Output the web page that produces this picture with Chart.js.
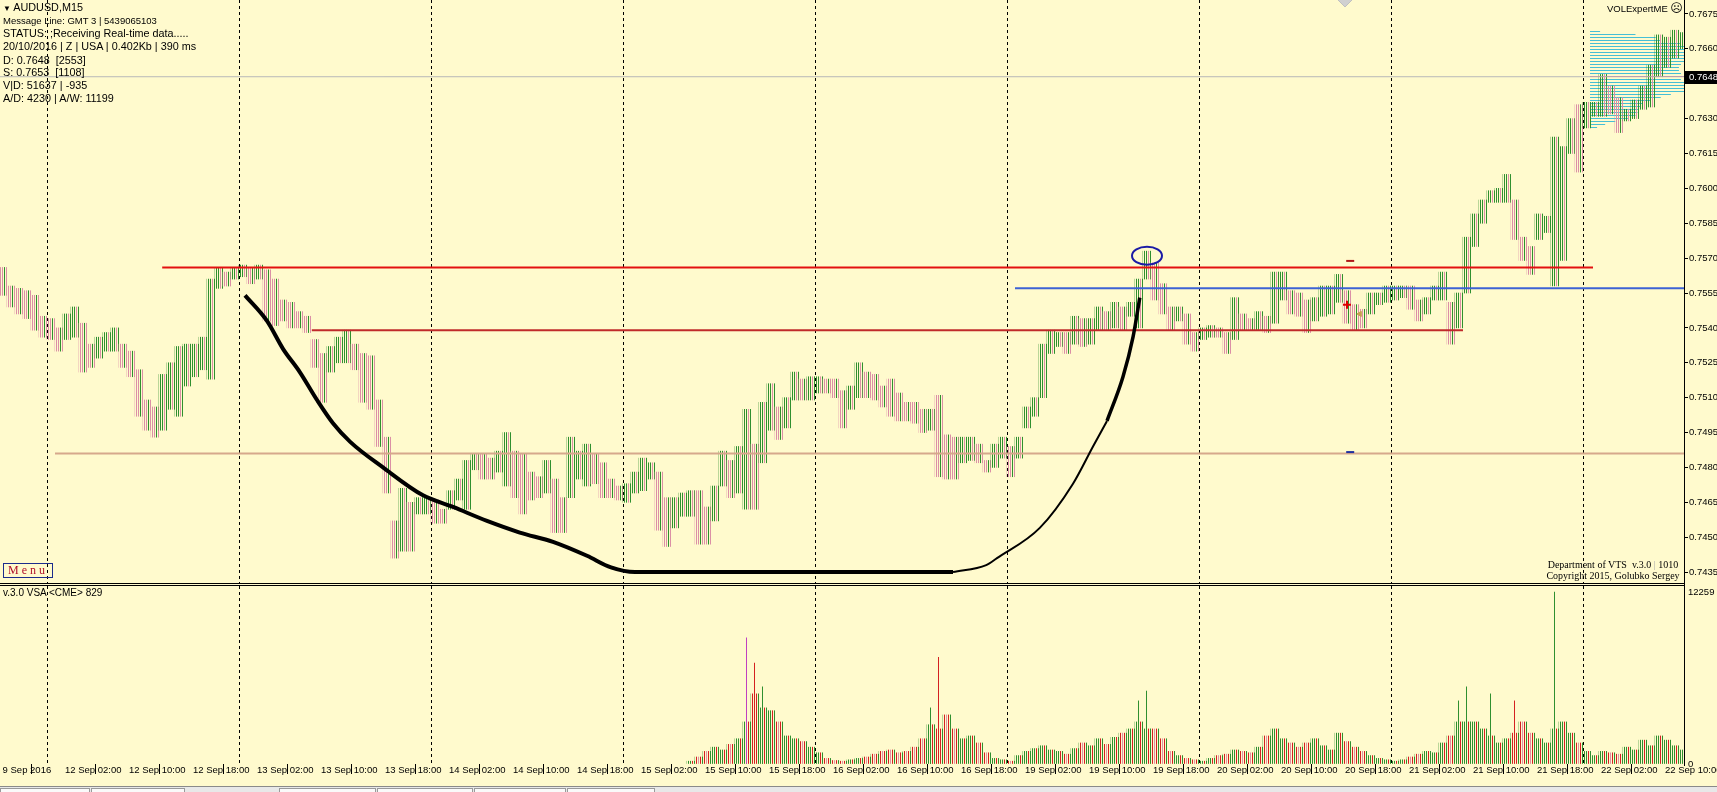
<!DOCTYPE html>
<html>
<head>
<meta charset="utf-8">
<title>AUDUSD,M15</title>
<script src="https://cdn.jsdelivr.net/npm/chart.js@4.4.1/dist/chart.umd.min.js"></script>
<style>
  html, body { margin: 0; padding: 0; }
  body { width: 1717px; height: 792px; position: relative; overflow: hidden; background: #FFFACD; font-family: "Liberation Sans", Arial, sans-serif; color: #000; }
  canvas { position: absolute; left: 0; }
  #price { top: 0; }
  #volume { top: 584px; }
  .t { position: absolute; white-space: pre; font-size: 10.8px; line-height: 12px; }
  .rule { position: absolute; left: 0; width: 1685px; height: 1px; background: #000; }
  #axisRule { position: absolute; left: 1684px; top: 0; width: 1px; height: 766px; background: #000; }
  #menu { position: absolute; left: 3px; top: 563px; width: 48px; height: 13px; border: 1px solid #1C2C8C; color: #B0102A;
          font: 12px "Liberation Serif", serif; letter-spacing: 3px; line-height: 13px; text-align: center; }
  .serif { position: absolute; font: 10px "Liberation Serif", serif; line-height: 11px; white-space: pre; text-align: center; width: 160px; left: 1533px; }
  #tabs { position: absolute; left: 0; top: 786px; width: 1717px; height: 6px; background: #E8E8E8; border-top: 1px solid #8A8A8A; }
  .tab { position: absolute; top: 1px; height: 6px; background: #FAFAFA; border: 1px solid #9A9A9A; border-bottom: 0; }
</style>
</head>
<body>
<canvas id="price" width="1717" height="583"></canvas>
<canvas id="volume" width="1717" height="202"></canvas>
<div class="rule" style="top:583px"></div>
<div class="rule" style="top:585px"></div>
<div id="axisRule"></div>

<div class="t" style="left:3px;top:1px"><span style="font-size:8px">▼</span> AUDUSD,M15</div>
<div class="t" style="left:3px;top:15px;font-size:9.5px">Message Line: GMT 3 | 5439065103</div>
<div class="t" style="left:3px;top:27px">STATUS: ;Receiving Real-time data.....</div>
<div class="t" style="left:3px;top:40px">20/10/2016 | Z | USA | 0.402Kb | 390 ms</div>
<div class="t" style="left:3px;top:54px">D: 0.7648  [2553]</div>
<div class="t" style="left:3px;top:66px">S: 0.7653  [1108]</div>
<div class="t" style="left:3px;top:79px">V|D: 51637 | -935</div>
<div class="t" style="left:3px;top:92px">A/D: 4230 | A/W: 11199</div>
<div class="t" style="left:1607px;top:2px;font-size:9.5px">VOLExpertME <span style="font-family:'DejaVu Sans';font-size:12px">☹</span></div>
<div id="menu">Menu</div>
<div class="serif" style="top:559px">Department of VTS  v.3.0 <span style="color:#aaa">|</span> 1010</div>
<div class="serif" style="top:570px">Copyright 2015, Golubko Sergey</div>
<div class="t" style="left:3px;top:587px;font-size:10px">v.3.0 VSA &lt;CME&gt; 829</div>
<div id="tabs">
  <div class="tab" style="left:0;width:88px"></div>
  <div class="tab" style="left:91px;width:92px"></div>
  <div class="tab" style="left:279px;width:95px"></div>
  <div class="tab" style="left:377px;width:94px"></div>
  <div class="tab" style="left:474px;width:90px"></div>
  <div class="tab" style="left:567px;width:86px"></div>
</div>

<script>
// hours are counted in trading time from 12 Sep 2016 00:00 (weekend removed)
const firstHour = -6; // 9 Sep 18:00

const barHigh = [
  0.7566, 0.7558, 0.7557, 0.7556, 0.7554, 0.7545,
  0.7544, 0.7540, 0.7546, 0.7549, 0.7542, 0.7533, 0.7536, 0.7538, 0.7540, 0.7533, 0.7530, 0.7522,
  0.7509, 0.7506, 0.7520, 0.7525, 0.7532, 0.7533, 0.7533, 0.7536, 0.7561, 0.7566, 0.7564, 0.7566,
  0.7567, 0.7566, 0.7567, 0.7565, 0.7561, 0.7552, 0.7551, 0.7547, 0.7545, 0.7535, 0.7529, 0.7532,
  0.7536, 0.7539, 0.7533, 0.7529, 0.7528, 0.7509, 0.7493, 0.7457, 0.7471, 0.7465, 0.7467, 0.7467,
  0.7466, 0.7462, 0.7470, 0.7475, 0.7483, 0.7486, 0.7486, 0.7484, 0.7487, 0.7495, 0.7487, 0.7486,
  0.7478, 0.7476, 0.7483, 0.7475, 0.7467, 0.7493, 0.7487, 0.7490, 0.7486, 0.7482, 0.7475, 0.7472,
  0.7473, 0.7478, 0.7484, 0.7482, 0.7478, 0.7467, 0.7467, 0.7469, 0.7470, 0.7470, 0.7463, 0.7472,
  0.7487, 0.7483, 0.7489, 0.7505, 0.7490, 0.7508, 0.7516, 0.7506, 0.7510, 0.7521, 0.7518, 0.7519,
  0.7519, 0.7518, 0.7518, 0.7513, 0.7515, 0.7525, 0.7521, 0.7520, 0.7515, 0.7518, 0.7512, 0.7508,
  0.7508, 0.7505, 0.7505, 0.7511, 0.7494, 0.7493, 0.7493, 0.7493, 0.7490, 0.7483, 0.7490, 0.7493,
  0.7489, 0.7493, 0.7506, 0.7510, 0.7533, 0.7539, 0.7538, 0.7538, 0.7545, 0.7544, 0.7544, 0.7549,
  0.7547, 0.7551, 0.7549, 0.7551, 0.7561, 0.7573, 0.7568, 0.7559, 0.7549, 0.7549, 0.7546, 0.7538,
  0.7540, 0.7541, 0.7540, 0.7538, 0.7553, 0.7546, 0.7544, 0.7547,
  0.7545, 0.7564, 0.7564, 0.7556, 0.7555, 0.7552, 0.7553, 0.7558, 0.7558, 0.7563, 0.7556, 0.7550,
  0.7548, 0.7555, 0.7555, 0.7558, 0.7558, 0.7558, 0.7558, 0.7552, 0.7553, 0.7558, 0.7564, 0.7551,
  0.7555, 0.7579, 0.7589, 0.7595, 0.7599, 0.7600, 0.7606, 0.7595, 0.7579, 0.7575, 0.7589, 0.7588,
  0.7622, 0.7618, 0.7630, 0.7636, 0.7637, 0.7637, 0.7649, 0.7644, 0.7639, 0.7634, 0.7638, 0.7644,
  0.7653, 0.7666, 0.7665, 0.7668, 0.7667
];

const barLow = [
  0.7554, 0.7549, 0.7546, 0.7544, 0.7539, 0.7536,
  0.7535, 0.7530, 0.7535, 0.7536, 0.7521, 0.7523, 0.7527, 0.7530, 0.7530, 0.7523, 0.7519, 0.7502,
  0.7496, 0.7493, 0.7496, 0.7505, 0.7502, 0.7515, 0.7519, 0.7522, 0.7518, 0.7557, 0.7558, 0.7561,
  0.7562, 0.7559, 0.7561, 0.7543, 0.7541, 0.7543, 0.7540, 0.7540, 0.7538, 0.7523, 0.7508, 0.7521,
  0.7525, 0.7525, 0.7522, 0.7508, 0.7505, 0.7489, 0.7469, 0.7441, 0.7444, 0.7444, 0.7460, 0.7460,
  0.7456, 0.7456, 0.7462, 0.7466, 0.7462, 0.7479, 0.7475, 0.7475, 0.7478, 0.7472, 0.7467, 0.7460,
  0.7466, 0.7467, 0.7469, 0.7452, 0.7452, 0.7467, 0.7475, 0.7472, 0.7473, 0.7467, 0.7467, 0.7466,
  0.7465, 0.7469, 0.7470, 0.7475, 0.7453, 0.7446, 0.7454, 0.7459, 0.7459, 0.7447, 0.7447, 0.7457,
  0.7472, 0.7467, 0.7469, 0.7462, 0.7462, 0.7482, 0.7496, 0.7492, 0.7497, 0.7509, 0.7509, 0.7509,
  0.7512, 0.7512, 0.7510, 0.7497, 0.7505, 0.7510, 0.7510, 0.7509, 0.7506, 0.7502, 0.7500, 0.7500,
  0.7499, 0.7495, 0.7496, 0.7476, 0.7475, 0.7475, 0.7482, 0.7483, 0.7482, 0.7478, 0.7480, 0.7484,
  0.7476, 0.7484, 0.7497, 0.7502, 0.7510, 0.7529, 0.7532, 0.7529, 0.7533, 0.7532, 0.7533, 0.7539,
  0.7539, 0.7540, 0.7539, 0.7545, 0.7540, 0.7561, 0.7552, 0.7546, 0.7539, 0.7543, 0.7533, 0.7530,
  0.7535, 0.7536, 0.7536, 0.7529, 0.7535, 0.7539, 0.7539, 0.7539,
  0.7538, 0.7542, 0.7552, 0.7546, 0.7545, 0.7538, 0.7543, 0.7545, 0.7546, 0.7551, 0.7542, 0.7539,
  0.7540, 0.7546, 0.7550, 0.7551, 0.7552, 0.7553, 0.7548, 0.7543, 0.7546, 0.7552, 0.7552, 0.7533,
  0.7540, 0.7555, 0.7575, 0.7585, 0.7594, 0.7594, 0.7594, 0.7578, 0.7569, 0.7563, 0.7578, 0.7581,
  0.7558, 0.7569, 0.7615, 0.7607, 0.7626, 0.7631, 0.7631, 0.7632, 0.7624, 0.7629, 0.7630, 0.7634,
  0.7635, 0.7648, 0.7652, 0.7656, 0.7660
];

// CME volume starts on 15 Sep 08:00 (hour 80); typical 15-min volume per hour
const volumeFirstHour = 80;
const volume = [
  200, 500, 900, 1200, 1000, 1400, 1800, 3000, 5000, 4000, 3800, 3000,
  2000, 1800, 1600, 1200, 800, 400, 250, 200, 300, 400, 500, 700,
  900, 1000, 800, 900, 1200, 1800, 2800, 2500, 3500, 2500, 1800, 2000,
  1500, 800, 400, 300, 200, 600, 900, 1100, 1300, 1000, 900, 700,
  1100, 1500, 1300, 1800, 1400, 1900, 2200, 2500, 3000, 2500, 2500, 1800,
  900, 600, 400, 300, 200, 400, 600, 700, 1000, 900, 800, 1200,
  2000, 2500, 1800, 1500, 1200, 1500, 1800, 1300, 1000, 2200, 1600, 1200,
  900, 600, 400, 300, 200, 300, 500, 700, 900, 800, 1500, 2000,
  3000, 3000, 3000, 2500, 2000, 1500, 1800, 2200, 3000, 2200, 1800, 1500,
  2500, 3000, 2200, 1500, 900, 600, 900, 800, 700, 1200, 1000, 1700,
  1300, 2000, 1700, 1300, 1000
];
// single 15-min spikes
const volumePeakHours = [87, 88, 89, 110, 111, 136, 137, 176, 177, 180, 183, 188];
const volumePeaks = [9000, 7200, 5500, 4000, 7600, 4500, 5200, 4500, 5500, 5000, 4500, 12259];

const daySeparators = [0, 24, 48, 72, 96, 120, 144, 168, 192];
const timeTickHours = [-5.8, 2, 10, 18, 26, 34, 42, 50, 58, 66, 74, 82, 90, 98, 106, 114,
  122, 130, 138, 146, 154, 162, 170, 178, 186, 194, 202];
const timeTickLabels = ['9 Sep 2016', '12 Sep 02:00', '12 Sep 10:00', '12 Sep 18:00', '13 Sep 02:00',
  '13 Sep 10:00', '13 Sep 18:00', '14 Sep 02:00', '14 Sep 10:00', '14 Sep 18:00', '15 Sep 02:00',
  '15 Sep 10:00', '15 Sep 18:00', '16 Sep 02:00', '16 Sep 10:00', '16 Sep 18:00', '19 Sep 02:00',
  '19 Sep 10:00', '19 Sep 18:00', '20 Sep 02:00', '20 Sep 10:00', '20 Sep 18:00', '21 Sep 02:00',
  '21 Sep 10:00', '21 Sep 18:00', '22 Sep 02:00', '22 Sep 10:00'];
const priceTicks = [0.7435, 0.7450, 0.7465, 0.7480, 0.7495, 0.7510, 0.7525, 0.7540, 0.7555,
  0.7570, 0.7585, 0.7600, 0.7615, 0.7630, 0.7660, 0.7675];
const volumeTicks = [0, 12259];
const lastPrice = 0.7648;

// drawn levels: resistance, support, breakout, old low, last price
const levelPrice = [0.7566, 0.7539, 0.7557, 0.7486, 0.7648];
const levelFrom = [14.4, 33.1, 121, 1, -5.875];
const levelTo = [193.25, 177, 204.625, 204.625, 204.625];

// hand drawn cup
const cupHours = [24.75, 27.5, 29.5, 31.6, 33.75, 35.75, 37.9, 42, 47, 50.75, 55, 59.1, 63.25, 67.5, 70.5, 73.5, 113.25];
const cupPrices = [0.7554, 0.7543, 0.7531, 0.7521, 0.7509, 0.7499, 0.7491, 0.7480, 0.7468, 0.7463, 0.7457, 0.7452, 0.7448, 0.7442, 0.7437, 0.7435, 0.7435];
const riseHours = [113.25, 117.4, 118.75, 124.1, 128.25, 130.75, 132.5];
const risePrices = [0.7435, 0.7438, 0.7441, 0.7454, 0.7473, 0.7489, 0.7500];
const tipHours = [132.5, 134.5, 135.75, 136.6];
const tipPrices = [0.7500, 0.7519, 0.7536, 0.7553];

const circleHour = 137.5;
const circlePrice = 0.7571;

// small objects left on the chart
const markHours = [162.9, 162.9, 162.5, 164.1, 162.25];
const markPrices = [0.75688, 0.74866, 0.7550, 0.7546, 0.7681];

// VOLExpert session profile
const profileStartHour = 192.9;
const profilePrices = [0.76677, 0.76664, 0.76651, 0.76638, 0.76625, 0.76612, 0.76599, 0.76587, 0.76574,
  0.76561, 0.76548, 0.76535, 0.76522, 0.76509, 0.76496, 0.76483, 0.76471, 0.76458, 0.76445, 0.76432,
  0.76419, 0.76406, 0.76393, 0.76380, 0.76367, 0.76354, 0.76341, 0.76328, 0.76316, 0.76303, 0.76290,
  0.76277, 0.76264];
const profileVolume = [10, 45, 65, 70, 90, 93, 93, 93, 93, 93, 93, 90, 88, 88, 90, 93, 90, 93, 93, 93,
  93, 80, 70, 60, 52, 50, 48, 47, 45, 38, 25, 15, 7];
const pocPrice = 0.76483;

// view
const viewFrom = -5.875, viewTo = 204.625;
const priceMin = 0.74303, priceMax = 0.76810;
const volumeMax = 12687;

const GREEN = '#2F8F2F', PINK = '#DB8FA6', RED = '#D42020', MAGENTA = '#C040C0';

Chart.defaults.font.family = '"Liberation Sans", Arial, sans-serif';
Chart.defaults.font.size = 9.5;
Chart.defaults.color = '#000';

function stripePattern(ctx, cols) {
  const c = document.createElement('canvas');
  c.width = 8; c.height = 1;
  const g = c.getContext('2d');
  cols.forEach((col, i) => {
    if (col) { g.fillStyle = col; g.fillRect(i, 0, 1, 1); }
  });
  return ctx.createPattern(c, 'repeat');
}

const mid = barHigh.map((h, i) => (h + barLow[i]) / 2);
const rising = mid.map((m, i) => i > 0 && m >= mid[i - 1]);

function dayLines(chart) {
  const { ctx, chartArea, scales } = chart;
  ctx.save();
  ctx.strokeStyle = '#000';
  ctx.lineWidth = 1;
  ctx.setLineDash([3, 3]);
  daySeparators.forEach(h => {
    const px = Math.round(scales.x.getPixelForValue(h)) + 0.5;
    ctx.beginPath();
    ctx.moveTo(px, chartArea.top);
    ctx.lineTo(px, chartArea.bottom);
    ctx.stroke();
  });
  ctx.restore();
}

function noPad(scale) {
  scale.paddingTop = 0; scale.paddingBottom = 0;
  scale.paddingLeft = 0; scale.paddingRight = 0;
}

// ---------------- price window ----------------
const priceCanvas = document.getElementById('price');
const pctx = priceCanvas.getContext('2d');
const upPat = stripePattern(pctx, [GREEN, 0, GREEN, 0, PINK, 0, GREEN, 0]);
const downPat = stripePattern(pctx, [PINK, 0, PINK, 0, GREEN, 0, PINK, 0]);

const priceOverlay = {
  id: 'priceOverlay',
  beforeDatasetsDraw(chart) {
    dayLines(chart);
    const { ctx, chartArea, scales: { x, y } } = chart;
    const x0 = Math.round(x.getPixelForValue(profileStartHour));
    const span = chartArea.right - x0;
    const vmax = Math.max(...profileVolume);
    ctx.save();
    ctx.lineWidth = 1;
    profilePrices.forEach((p, i) => {
      const py = Math.round(y.getPixelForValue(p)) + 0.5;
      ctx.strokeStyle = p === pocPrice ? '#C04A9C' : '#45BFD5';
      ctx.beginPath();
      ctx.moveTo(x0, py);
      ctx.lineTo(x0 + span * profileVolume[i] / vmax, py);
      ctx.stroke();
    });
    ctx.restore();
  },
  afterDatasetsDraw(chart) {
    const { ctx, scales: { x, y } } = chart;
    ctx.save();
    ctx.strokeStyle = '#1B1BA6';
    ctx.lineWidth = 2;
    ctx.beginPath();
    ctx.ellipse(x.getPixelForValue(circleHour), y.getPixelForValue(circlePrice), 15, 9, 0, 0, Math.PI * 2);
    ctx.stroke();
    ctx.restore();
  },
  afterDraw(chart) {
    const { ctx, chartArea, scales: { y } } = chart;
    const py = Math.round(y.getPixelForValue(lastPrice));
    ctx.save();
    ctx.fillStyle = '#000';
    ctx.fillRect(chartArea.right + 1, py - 6, 40, 13);
    ctx.fillStyle = '#fff';
    ctx.font = '9.5px "Liberation Sans", Arial, sans-serif';
    ctx.textBaseline = 'middle';
    ctx.fillText(lastPrice.toFixed(4), chartArea.right + 5, py + 0.5);
    ctx.restore();
  }
};

function levelSet(i, color, width) {
  return {
    type: 'line',
    data: [{ x: levelFrom[i], y: levelPrice[i] }, { x: levelTo[i], y: levelPrice[i] }],
    borderColor: color, borderWidth: width, pointRadius: 0, order: 1
  };
}
function curveSet(hours, prices, width) {
  return {
    type: 'line',
    data: hours.map((h, i) => ({ x: h, y: prices[i] })),
    borderColor: '#000', borderWidth: width, pointRadius: 0,
    cubicInterpolationMode: 'monotone', order: 0
  };
}

new Chart(priceCanvas, {
  type: 'bar',
  data: {
    datasets: [
      curveSet(cupHours, cupPrices, 4),
      curveSet(riseHours, risePrices, 2),
      curveSet(tipHours, tipPrices, 3.5),
      {
        type: 'line', showLine: false, order: 0,
        data: markHours.map((h, i) => ({ x: h, y: markPrices[i] })),
        pointStyle: ['line', 'line', 'cross', 'triangle', 'rectRot'],
        pointRadius: [4, 4, 4, 3, 7],
        pointRotation: [0, 0, 0, -90, 0],
        pointBorderWidth: [2, 2, 2, 1, 1],
        pointBorderColor: ['#B01818', '#2030A0', '#E00000', '#C8A050', '#C0C0C0'],
        pointBackgroundColor: ['#B01818', '#2030A0', '#E00000', '#C8A050', '#D0D0D0']
      },
      levelSet(0, '#E31010', 2),
      levelSet(1, '#C02A2A', 2),
      levelSet(2, '#3D62D4', 2),
      levelSet(3, '#D6A88C', 2),
      levelSet(4, '#B8B8B8', 1),
      {
        type: 'bar', order: 10, grouped: false,
        data: barHigh.map((h, i) => ({ x: firstHour + i + 0.5, y: [barLow[i], h] })),
        backgroundColor: barHigh.map((h, i) => rising[i] ? upPat : downPat),
        borderWidth: 0, barThickness: 8
      }
    ]
  },
  options: {
    responsive: false, animation: false,
    layout: { padding: 0, autoPadding: false },
    plugins: { legend: { display: false }, tooltip: { enabled: false } },
    scales: {
      x: { type: 'linear', min: viewFrom, max: viewTo, offset: false, display: false },
      y: {
        position: 'right', min: priceMin, max: priceMax,
        afterBuildTicks: axis => { axis.ticks = priceTicks.map(v => ({ value: v })); },
        afterFit: s => { s.width = 33; noPad(s); },
        ticks: { callback: v => v.toFixed(4), padding: 1, autoSkip: false },
        grid: { drawOnChartArea: false, tickLength: 4, color: '#000' },
        border: { color: '#000' }
      }
    }
  },
  plugins: [priceOverlay]
});

// ---------------- volume window ----------------
const volCanvas = document.getElementById('volume');
const vctx = volCanvas.getContext('2d');
const volUp = stripePattern(vctx, [GREEN, 0, GREEN, 0, RED, 0, GREEN, 0]);
const volDown = stripePattern(vctx, [RED, 0, PINK, 0, RED, 0, GREEN, 0]);
const spikeMagenta = stripePattern(vctx, [0, 0, MAGENTA, 0, 0, 0, 0, 0]);
const spikeGreen = stripePattern(vctx, [0, 0, GREEN, 0, 0, 0, 0, 0]);
const spikeRed = stripePattern(vctx, [0, 0, RED, 0, 0, 0, 0, 0]);

new Chart(volCanvas, {
  type: 'bar',
  data: {
    datasets: [
      {
        grouped: false,
        data: volumePeakHours.map((h, i) => ({ x: h + 0.5, y: volumePeaks[i] })),
        backgroundColor: volumePeakHours.map((h, i) => i === 0 ? spikeMagenta : (rising[h - firstHour] ? spikeGreen : spikeRed)),
        borderWidth: 0, barThickness: 8
      },
      {
        grouped: false,
        data: volume.map((v, i) => ({ x: volumeFirstHour + i + 0.5, y: v })),
        backgroundColor: volume.map((v, i) => rising[volumeFirstHour - firstHour + i] ? volUp : volDown),
        borderWidth: 0, barThickness: 8
      }
    ]
  },
  options: {
    responsive: false, animation: false,
    layout: { padding: { top: 2 }, autoPadding: false },
    plugins: { legend: { display: false }, tooltip: { enabled: false } },
    scales: {
      x: {
        type: 'linear', min: viewFrom, max: viewTo, offset: false,
        afterBuildTicks: axis => { axis.ticks = timeTickHours.map(v => ({ value: v })); },
        afterFit: s => { s.height = 22; noPad(s); },
        ticks: {
          callback: (v, i) => timeTickLabels[i], autoSkip: false, maxRotation: 0, minRotation: 0,
          align: 'start', labelOffset: 2, padding: -9
        },
        grid: { drawOnChartArea: false, tickLength: 10, color: '#000' },
        border: { display: false }
      },
      y: {
        position: 'right', min: 0, max: volumeMax,
        afterBuildTicks: axis => { axis.ticks = volumeTicks.map(v => ({ value: v })); },
        afterFit: s => { s.width = 33; noPad(s); },
        ticks: { callback: v => String(v), padding: 4, autoSkip: false },
        grid: { drawOnChartArea: false, drawTicks: false, tickLength: 0 },
        border: { color: '#000' }
      }
    }
  },
  plugins: [{ id: 'volDays', beforeDatasetsDraw: dayLines }]
});
</script>
</body>
</html>
